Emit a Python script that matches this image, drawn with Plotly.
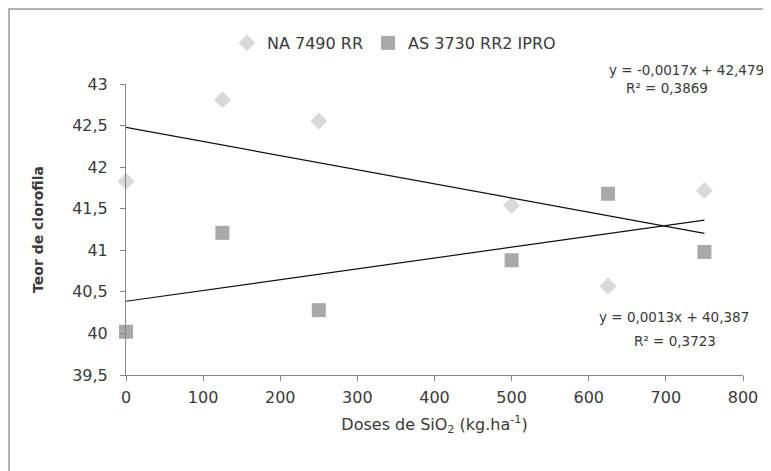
import plotly.graph_objects as go

# ---- data ----
doses = [0, 125, 250, 500, 625, 750]
na_7490 = [41.83, 42.81, 42.555, 41.54, 40.57, 41.72]
as_3730 = [40.02, 41.21, 40.28, 40.88, 41.68, 40.98]
series_names = ["NA 7490 RR", "AS 3730 RR2 IPRO"]
trend_slope = [-0.0017, 0.0013]
trend_intercept = [42.479, 40.387]
eq_labels = ["y = -0,0017x + 42,479", "y = 0,0013x + 40,387"]
r2_labels = ["R² = 0,3869", "R² = 0,3723"]
x_ticks = [0, 100, 200, 300, 400, 500, 600, 700, 800]
y_ticks = [39.5, 40, 40.5, 41, 41.5, 42, 42.5, 43]

# page body has an 8px margin; lay out in window pixels and shift
OFF = 8
W, H = 771 - OFF, 471 - OFF
ML, MT = 126 - OFF, 84 - OFF
MR = W - (743 - OFF)
MB = H - (375 - OFF)
PW, PH = W - ML - MR, H - MT - MB

def px(x):
    return (x - OFF - ML) / PW

def py(y):
    return (H - MB - (y - OFF)) / PH

FONT = "DejaVu Sans"
TXT = "#3a3a3a"
AX = "#868686"

fig = go.Figure()
fig.add_trace(go.Scatter(
    x=doses, y=na_7490, mode="markers", name=series_names[0],
    cliponaxis=False,
    marker=dict(symbol="diamond", size=13, color="#d9d9d9")))
fig.add_trace(go.Scatter(
    x=doses, y=as_3730, mode="markers", name=series_names[1],
    cliponaxis=False,
    marker=dict(symbol="square", size=14, color="#a9a9a9")))

xmin, xmax = min(doses), max(doses)
for m, b in zip(trend_slope, trend_intercept):
    fig.add_trace(go.Scatter(
        x=[xmin, xmax], y=[b + m * xmin, b + m * xmax], mode="lines",
        line=dict(color="#111111", width=1.2), showlegend=False,
        hoverinfo="skip"))

ann_pos = [((686, 70), (667, 88)), ((674, 317), (675, 341))]
annotations = []
for (p1, p2), eq, r2 in zip(ann_pos, eq_labels, r2_labels):
    for (ax_, ay_), t in ((p1, eq), (p2, r2)):
        annotations.append(dict(
            x=px(ax_), y=py(ay_), xref="paper", yref="paper", text=t,
            showarrow=False, xanchor="center", yanchor="middle",
            font=dict(family=FONT, size=13.5, color=TXT)))

fig.update_layout(
    width=W, height=H,
    margin=dict(l=ML, r=MR, t=MT, b=MB),
    paper_bgcolor="white", plot_bgcolor="white",
    separators=", ",
    font=dict(family=FONT, color=TXT, size=16),
    showlegend=True,
    legend=dict(orientation="h", x=px(394), y=py(43), xanchor="center",
                yanchor="middle", font=dict(family=FONT, size=16, color=TXT),
                itemwidth=30, tracegroupgap=0, bgcolor="rgba(0,0,0,0)"),
    annotations=annotations,
    shapes=[dict(type="rect", xref="paper", yref="paper",
                 x0=px(9), y0=py(9), x1=px(W + 30), y1=py(H + 30),
                 line=dict(color="#9a9a9a", width=1.5), layer="below")],
)

fig.update_xaxes(
    range=[0, 800], tickvals=x_ticks, showgrid=False, zeroline=False,
    showline=True, linecolor=AX, linewidth=1, ticks="outside",
    tickcolor=AX, ticklen=5, ticklabelstandoff=3,
    tickfont=dict(family=FONT, size=16, color=TXT),
    title=dict(text="Doses de SiO<sub>2</sub> (kg.ha<sup>-1</sup>)",
               font=dict(family=FONT, size=16, color=TXT), standoff=12))
fig.update_yaxes(
    range=[39.5, 43], tickvals=y_ticks, showgrid=False, zeroline=False,
    showline=True, linecolor=AX, linewidth=1, ticks="outside",
    tickcolor=AX, ticklen=5, ticklabelstandoff=9,
    tickfont=dict(family=FONT, size=16, color=TXT),
    title=dict(text="<b>Teor de clorofila</b>",
               font=dict(family=FONT, size=14, color=TXT), standoff=25))

fig.write_html("out.html")
